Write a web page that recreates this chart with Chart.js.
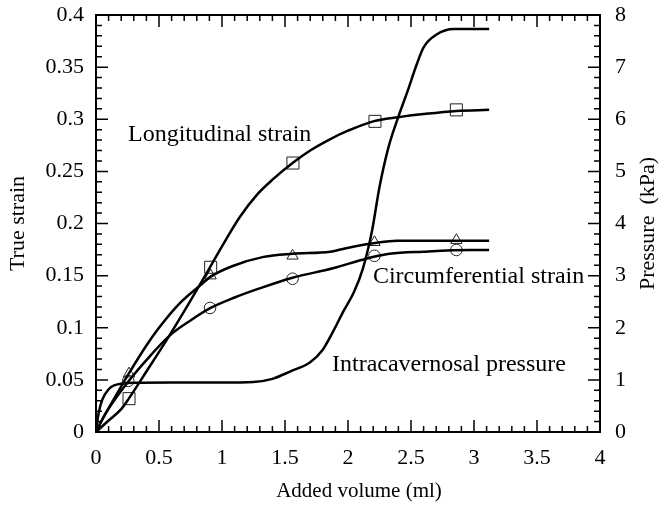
<!DOCTYPE html>
<html>
<head>
<meta charset="utf-8">
<script src="https://cdn.jsdelivr.net/npm/chart.js@4.4.1/dist/chart.umd.min.js"></script>
<style>
  html, body { margin: 0; padding: 0; background: #fff; }
  #wrap { width: 661px; height: 505px; }
</style>
</head>
<body>
<div id="wrap"><canvas id="strainChart" width="661" height="505"></canvas></div>
<script>
// Longitudinal strain curve
const lengX = [0, 0.1, 0.2, 0.26, 0.4, 0.58, 0.75, 0.9, 1.0, 1.14, 1.28, 1.41, 1.56, 1.7, 1.86, 2.0, 2.2, 2.4, 2.6, 2.86, 3.12];
const lengY = [0, 0.011, 0.022, 0.032, 0.058, 0.092, 0.126, 0.157, 0.178, 0.206, 0.228, 0.243, 0.258, 0.270, 0.281, 0.289, 0.298, 0.302, 0.305, 0.308, 0.309];

// Circumferential strain (triangles)
const triX = [0, 0.05, 0.12, 0.26, 0.4, 0.5, 0.66, 0.84, 0.91, 1.08, 1.33, 1.56, 1.86, 1.94, 2.05, 2.2, 2.39, 2.6, 2.97, 3.12];
const triY = [0, 0.012, 0.027, 0.056, 0.083, 0.100, 0.123, 0.142, 0.149, 0.159, 0.168, 0.171, 0.173, 0.175, 0.178, 0.181, 0.1835, 0.1835, 0.1835, 0.1835];

// Circumferential strain (circles)
const cirX = [0, 0.05, 0.12, 0.26, 0.4, 0.58, 0.75, 0.91, 1.1, 1.28, 1.56, 1.88, 2.15, 2.33, 2.6, 2.97, 3.12];
const cirY = [0, 0.012, 0.026, 0.049, 0.069, 0.092, 0.107, 0.119, 0.129, 0.137, 0.148, 0.157, 0.1665, 0.171, 0.173, 0.1745, 0.1745];

// Intracavernosal pressure (kPa)
const presX = [0, 0.02, 0.05, 0.1, 0.15, 0.21, 0.3, 0.6, 1.0, 1.25, 1.4, 1.54, 1.7, 1.8, 1.88, 1.96, 2.05, 2.12, 2.19, 2.25, 2.32, 2.4, 2.47, 2.545, 2.6, 2.7, 2.84, 3.12];
const presY = [0, 0.35, 0.62, 0.82, 0.9, 0.93, 0.945, 0.95, 0.95, 0.96, 1.02, 1.16, 1.34, 1.58, 1.92, 2.3, 2.7, 3.15, 3.85, 4.7, 5.45, 6.05, 6.52, 7.05, 7.38, 7.62, 7.73, 7.73];

// measured points (markers)
const sqX = [0.262, 0.91, 1.563, 2.214, 2.86];
const sqY = [0.032, 0.158, 0.258, 0.298, 0.309];
const triMX = [0.262, 0.91, 1.56, 2.21, 2.86];
const triMY = [0.056, 0.150, 0.169, 0.182, 0.184];
const cirMX = [0.256, 0.905, 1.56, 2.21, 2.86];
const cirMY = [0.049, 0.119, 0.147, 0.169, 0.1746];

const xTicks = [0, 0.5, 1, 1.5, 2, 2.5, 3, 3.5, 4];
const strainTicks = [0, 0.05, 0.1, 0.15, 0.2, 0.25, 0.3, 0.35, 0.4];
const pressureTicks = [0, 1, 2, 3, 4, 5, 6, 7, 8];

const curveLabels = ['Longitudinal strain', 'Circumferential strain', 'Intracavernosal pressure'];
const curveLabelAt = [[0.254, 0.285], [2.198, 0.1487], [1.873, 0.0643]];

const FONT = "'Liberation Serif', 'Times New Roman', serif";
const FS = 22;

function toPoints(xs, ys) {
    return xs.map((x, i) => ({ x: x, y: ys[i] }));
}

function fmt(v) {
    return String(Number(v.toFixed(2)));
}

function curve(xs, ys, axis) {
    return {
        data: toPoints(xs, ys),
        yAxisID: axis,
        showLine: true,
        borderColor: '#000',
        borderWidth: 2.5,
        pointRadius: 0,
        cubicInterpolationMode: 'monotone'
    };
}

function markers(xs, ys, style, r) {
    return {
        data: toPoints(xs, ys),
        yAxisID: 'y',
        showLine: false,
        pointStyle: style,
        pointRadius: r,
        pointBorderWidth: 1,
        pointBorderColor: '#222',
        pointBackgroundColor: 'rgba(0,0,0,0)'
    };
}

// fixed axis sizes so the plot frame sits where the original one does
function fixSize(w, h) {
    return s => {
        if (w) s.width = w;
        if (h) s.height = h;
        s.paddingTop = 0; s.paddingBottom = 0;
        s.paddingLeft = 0; s.paddingRight = 0;
    };
}

// inside tick marks, frame, curve labels, bottom and right axis titles
const decorations = {
    id: 'decorations',
    afterDatasetsDraw(chart) {
        const ctx = chart.ctx;
        const a = chart.chartArea;
        const sx = chart.scales.x, sy = chart.scales.y, sy2 = chart.scales.y2;
        ctx.save();
        ctx.strokeStyle = '#000';
        ctx.lineWidth = 1.5;
        ctx.beginPath();
        for (let i = 0; i <= 40; i++) {
            const px = sx.getPixelForValue(i / 10);
            const len = i % 5 === 0 ? 12 : 6;
            ctx.moveTo(px, a.bottom); ctx.lineTo(px, a.bottom - len);
            ctx.moveTo(px, a.top); ctx.lineTo(px, a.top + len);
        }
        for (let i = 0; i <= 40; i++) {
            const py = sy.getPixelForValue(i / 100);
            const len = i % 5 === 0 ? 12 : 6;
            ctx.moveTo(a.left, py); ctx.lineTo(a.left + len, py);
        }
        for (let i = 0; i <= 40; i++) {
            const py = sy2.getPixelForValue(i / 5);
            const len = i % 5 === 0 ? 12 : 6;
            ctx.moveTo(a.right, py); ctx.lineTo(a.right - len, py);
        }
        ctx.stroke();
        ctx.lineWidth = 2;
        ctx.strokeRect(a.left, a.top, a.right - a.left, a.bottom - a.top);

        ctx.fillStyle = '#000';
        ctx.font = '24px ' + FONT;
        ctx.textAlign = 'left';
        ctx.textBaseline = 'middle';
        curveLabels.forEach((txt, i) => {
            const p = curveLabelAt[i];
            ctx.fillText(txt, sx.getPixelForValue(p[0]), sy.getPixelForValue(p[1]));
        });

        ctx.font = '21px ' + FONT;
        ctx.textAlign = 'center';
        ctx.fillText('Added volume (ml)', 359, 491);

        ctx.font = FS + 'px ' + FONT;
        ctx.translate(648, (a.top + a.bottom) / 2);
        ctx.rotate(-Math.PI / 2);
        ctx.fillText('Pressure  (kPa)', 0, 0);
        ctx.restore();
    }
};

new Chart(document.getElementById('strainChart').getContext('2d'), {
    type: 'scatter',
    data: {
        datasets: [
            curve(lengX, lengY, 'y'),
            curve(triX, triY, 'y'),
            curve(cirX, cirY, 'y'),
            curve(presX, presY, 'y2'),
            markers(sqX, sqY, 'rect', 8.5),
            markers(triMX, triMY, 'triangle', 6.5),
            markers(cirMX, cirMY, 'circle', 5.8)
        ]
    },
    options: {
        responsive: false,
        animation: false,
        layout: { padding: { top: 15, left: 0, right: 0, bottom: 0 } },
        plugins: { legend: { display: false }, tooltip: { enabled: false } },
        scales: {
            x: {
                type: 'linear', position: 'bottom', min: 0, max: 4,
                afterBuildTicks: s => { s.ticks = xTicks.map(v => ({ value: v })); },
                afterFit: fixSize(0, 73),
                grid: { display: false, drawTicks: false },
                border: { display: false },
                ticks: { padding: 13, color: '#000', font: { family: FONT, size: FS }, callback: v => fmt(v), maxRotation: 0 }
            },
            y: {
                type: 'linear', position: 'left', min: 0, max: 0.4,
                afterBuildTicks: s => { s.ticks = strainTicks.map(v => ({ value: v })); },
                afterFit: fixSize(96, 0),
                grid: { display: false, drawTicks: false },
                border: { display: false },
                ticks: { padding: 12, color: '#000', font: { family: FONT, size: FS }, callback: v => fmt(v) },
                title: { display: true, text: 'True strain', color: '#000', font: { family: FONT, size: FS }, padding: { top: 5, bottom: 0 } }
            },
            y2: {
                type: 'linear', position: 'right', min: 0, max: 8,
                afterBuildTicks: s => { s.ticks = pressureTicks.map(v => ({ value: v })); },
                afterFit: fixSize(61, 0),
                grid: { display: false, drawTicks: false },
                border: { display: false },
                ticks: { padding: 15, color: '#000', font: { family: FONT, size: FS }, callback: v => fmt(v) }
            }
        }
    },
    plugins: [decorations]
});
</script>
</body>
</html>
